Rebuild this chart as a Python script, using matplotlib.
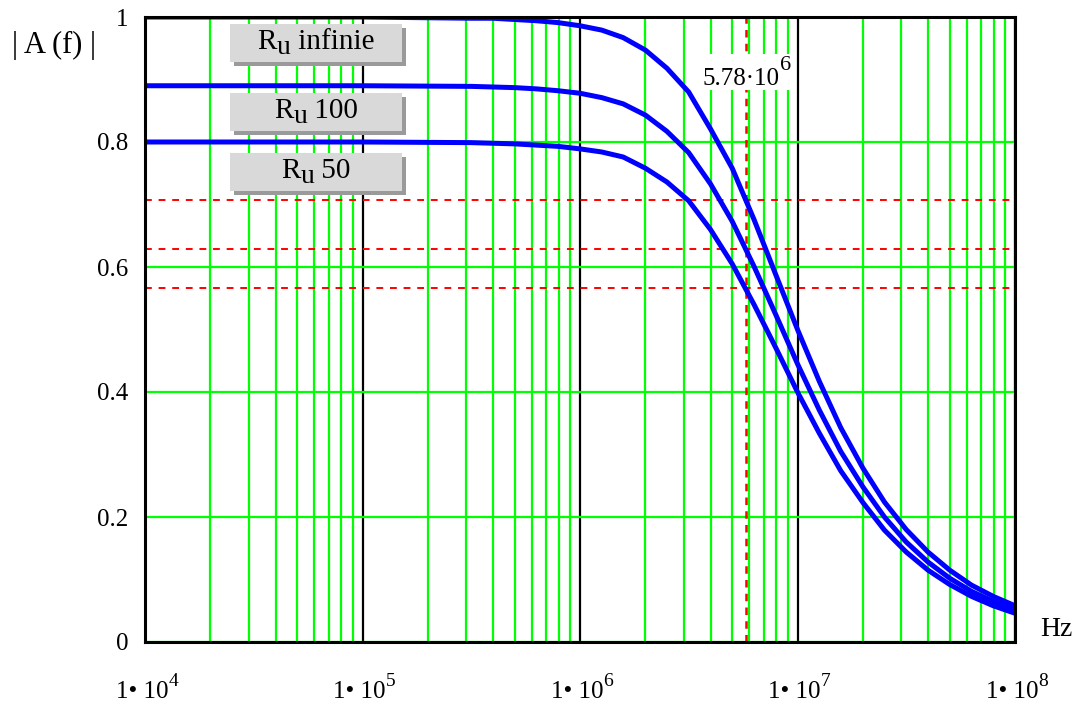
import matplotlib
matplotlib.use("Agg")
import matplotlib.pyplot as plt
from matplotlib.ticker import LogLocator, NullFormatter
from matplotlib.patches import Rectangle

plt.rcParams['font.family'] = ['Liberation Serif', 'DejaVu Serif']

# ---- data ----
freq = [1e4, 1e5, 3.16e5, 3.98e5, 5.01e5, 6.31e5, 7.94e5, 1.0e6, 1.26e6, 1.58e6,
        2.0e6, 2.51e6, 3.16e6, 3.98e6, 5.01e6, 6.31e6, 7.94e6, 1.0e7, 1.26e7, 1.58e7,
        2.0e7, 2.51e7, 3.16e7, 3.98e7, 5.01e7, 6.31e7, 7.94e7, 1.0e8]
a_inf = [1.000, 1.000, 0.998, 0.998, 0.996, 0.994, 0.991, 0.986, 0.979, 0.967,
         0.947, 0.918, 0.880, 0.821, 0.758, 0.676, 0.588, 0.500, 0.417, 0.343,
         0.278, 0.224, 0.180, 0.144, 0.115, 0.091, 0.073, 0.058]
a_100 = [0.890, 0.890, 0.889, 0.888, 0.887, 0.885, 0.882, 0.878, 0.871, 0.861,
         0.843, 0.817, 0.783, 0.733, 0.673, 0.601, 0.524, 0.445, 0.371, 0.305,
         0.248, 0.200, 0.160, 0.128, 0.102, 0.081, 0.065, 0.051]
a_50 = [0.800, 0.800, 0.799, 0.798, 0.797, 0.795, 0.793, 0.789, 0.784, 0.776,
        0.758, 0.736, 0.706, 0.660, 0.605, 0.540, 0.471, 0.400, 0.334, 0.274,
        0.223, 0.179, 0.144, 0.115, 0.092, 0.073, 0.058, 0.046]
ref_levels = [0.707, 0.629, 0.566]
f_cut = 5.78e6
x_ticks = [1e4, 1e5, 1e6, 1e7, 1e8]
x_tick_exps = ["4", "5", "6", "7", "8"]
y_ticks = [0, 0.2, 0.4, 0.6, 0.8, 1.0]
y_ticklabels = ["0", "0.2", "0.4", "0.6", "0.8", "1"]
label_subs = ["infinie", "100", "50"]

W, H = 1079, 704
fig = plt.figure(figsize=(W / 100, H / 100), dpi=100)
ax = fig.add_axes([145 / W, (H - 642) / H, 870 / W, 625 / H])
ax.set_xscale('log')
ax.set_xlim(1e4, 1e8)
ax.set_ylim(0, 1)

# grid
ax.xaxis.set_minor_locator(LogLocator(base=10, subs=[2, 3, 4, 5, 6, 7, 8, 9]))
ax.xaxis.set_minor_formatter(NullFormatter())
ax.grid(which='minor', axis='x', color='#00ff00', lw=1.6, zorder=1)
ax.grid(which='major', axis='x', color='black', lw=1.6, zorder=1)
ax.grid(which='major', axis='y', color='#00ff00', lw=1.6, zorder=1)
ax.set_axisbelow(True)

# reference dashed lines
for lv in ref_levels:
    ax.axhline(lv, color='red', lw=1.4, ls=(0, (3.5, 3.5)), zorder=2)
ax.axvline(f_cut, color='red', lw=1.8, ls=(0, (3, 2.5)), zorder=2)

# curves
for vals in (a_inf, a_100, a_50):
    ax.plot(freq, vals, color='#0000ff', lw=3.6, zorder=4, solid_joinstyle='round')

ax.set_xticks(x_ticks)
ax.set_xticklabels([""] * len(x_ticks))
ax.set_yticks(y_ticks)
ax.set_yticklabels(y_ticklabels, fontsize=18)
ax.tick_params(axis='both', which='both', length=0)
ax.tick_params(axis='y', pad=12)
for s in ax.spines.values():
    s.set_linewidth(2.2)
    s.set_color('black')
    s.set_zorder(5)

renderer = fig.canvas.get_renderer()


def rich(pieces, cx, baseline, zorder=9, bg=None):
    """pieces: list of (text, fontsize, dy_px); cx, baseline in pixels (y from top)."""
    arts = []
    widths = []
    for s, size, dy in pieces:
        t = fig.text(0, 0, s, fontsize=size, ha='left', va='baseline', zorder=zorder)
        arts.append(t)
        widths.append(t.get_window_extent(renderer).width)
    total = sum(widths)
    x = cx - total / 2
    for t, w, (s, size, dy) in zip(arts, widths, pieces):
        t.set_position((x / W, 1 - (baseline + dy) / H))
        x += w
    if bg is not None:
        x0 = cx - total / 2 - 3
        r = Rectangle((x0 / W, 1 - bg[1] / H), (total + 6) / W,
                      (bg[1] - bg[0]) / H, transform=fig.transFigure,
                      facecolor='white', edgecolor='none', zorder=zorder - 1)
        fig.add_artist(r)
    return total


# x tick labels
for xt, ex in zip(x_ticks, x_tick_exps):
    px = ax.transData.transform((xt, 0))[0]
    rich([("1\u2022 10", 18, 0), (ex, 14, -12)], px + 2, 698)

# cutoff label
px_cut = ax.transData.transform((f_cut, 0))[0]
rich([("5.78\u00b710", 18, 0), ("6", 16, -15)], px_cut + 1, 85, zorder=9, bg=(54, 90))

fig.text(12 / W, 1 - 45 / H, "| A (f) |", fontsize=22, ha='left', va='center')
fig.text(1040 / W, 1 - 630 / H, "Hz", fontsize=20, ha='left', va='center')

# label boxes
box_tops = [24, 93, 153]
for sub, top in zip(label_subs, box_tops):
    x0, x1 = 230, 402
    y0, y1 = top, top + 38
    shadow = Rectangle(((x0 + 4) / W, (H - y1 - 4) / H), (x1 - x0) / W, (y1 - y0) / H,
                       transform=fig.transFigure, facecolor='#9a9a9a', edgecolor='none', zorder=7)
    box = Rectangle((x0 / W, (H - y1) / H), (x1 - x0) / W, (y1 - y0) / H,
                    transform=fig.transFigure, facecolor='#d9d9d9', edgecolor='none', zorder=8)
    fig.add_artist(shadow)
    fig.add_artist(box)
    rich([("R", 21, 0), ("u", 20, 5), (" " + sub, 21, 0)], (x0 + x1) / 2, y0 + 25)

fig.savefig("out.png", dpi=100)
